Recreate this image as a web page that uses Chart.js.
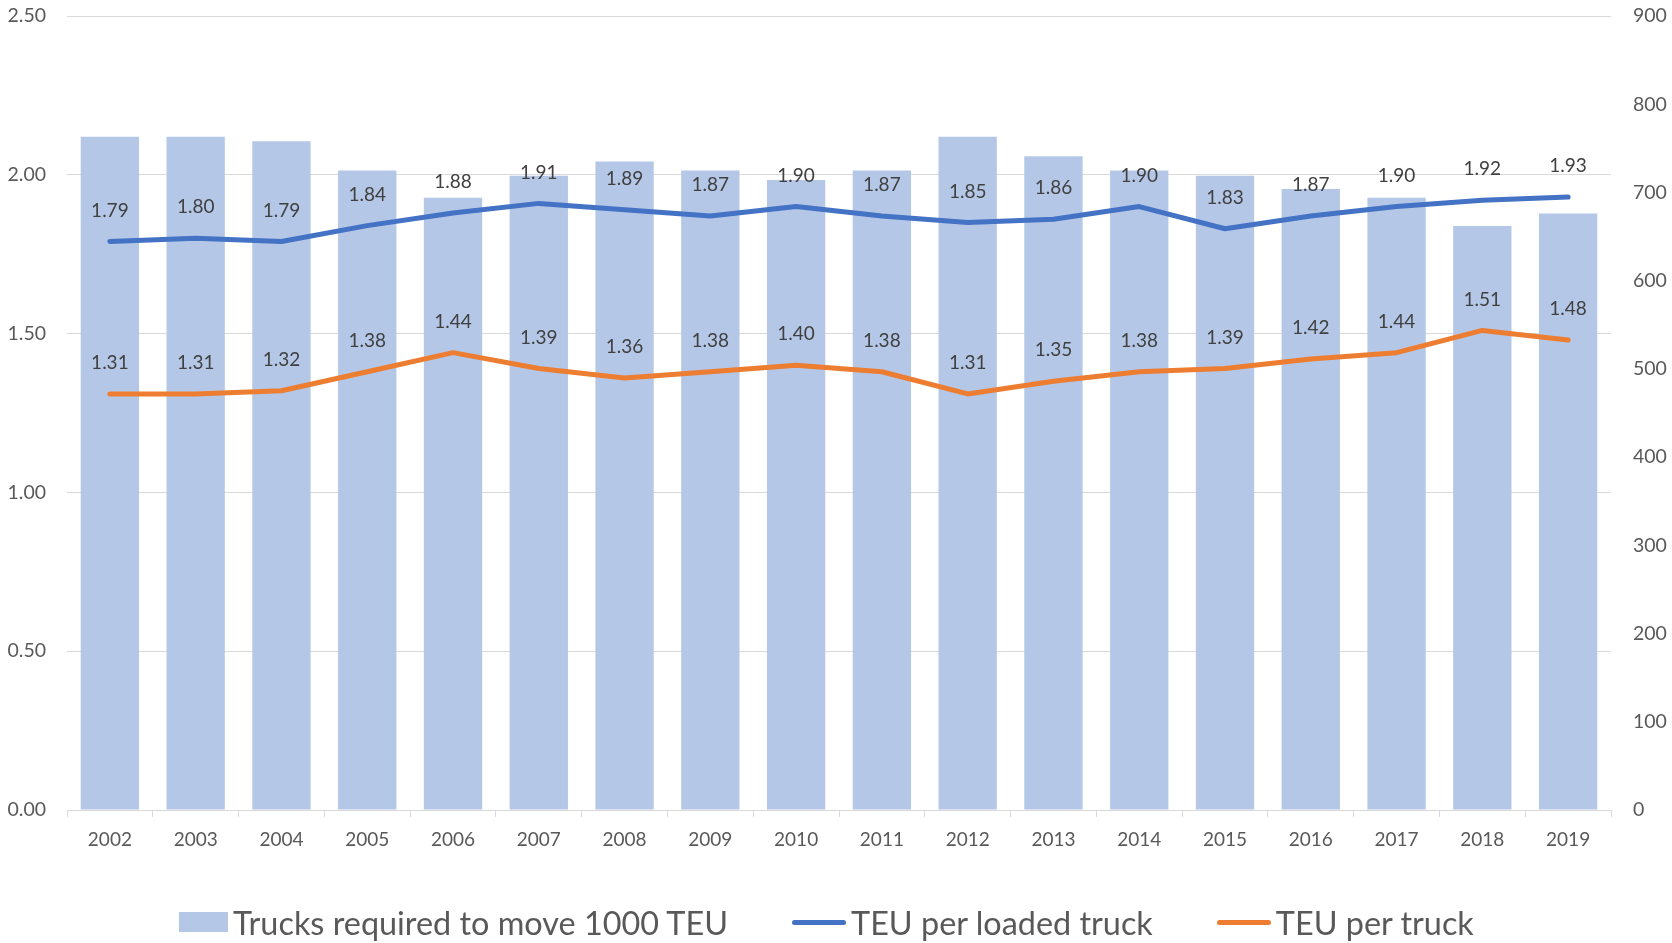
<!DOCTYPE html>
<html>
<head>
<meta charset="utf-8">
<script src="https://cdn.jsdelivr.net/npm/chart.js@4.4.0/dist/chart.umd.min.js"></script>
<style>
  html, body { margin: 0; padding: 0; background: #fff; }
  #wrap { position: relative; width: 1672px; height: 943px; }
  #legend {
    position: absolute; left: 179px; top: 900px; height: 44px;
    display: flex; align-items: center; gap: 64px;
    font-family: Lato, sans-serif; font-size: 32.4px; color: #595959;
  }
  .item { display: flex; align-items: center; gap: 5px; white-space: nowrap; }
  .box { width: 49px; height: 20px; }
  .line { width: 54px; height: 5px; border-radius: 3px; }
</style>
</head>
<body>
<div id="wrap">
  <canvas id="chart" width="1672" height="943"></canvas>
  <div id="legend"></div>
</div>
<script>
// data
const years = ['2002', '2003', '2004', '2005', '2006', '2007', '2008', '2009', '2010',
  '2011', '2012', '2013', '2014', '2015', '2016', '2017', '2018', '2019'];
const trucksPer1000Teu = [763, 763, 758, 725, 694, 719, 735, 725, 714,
  725, 763, 741, 725, 719, 704, 694, 662, 676];
const teuPerLoadedTruck = [1.79, 1.80, 1.79, 1.84, 1.88, 1.91, 1.89, 1.87, 1.90,
  1.87, 1.85, 1.86, 1.90, 1.83, 1.87, 1.90, 1.92, 1.93];
const teuPerTruck = [1.31, 1.31, 1.32, 1.38, 1.44, 1.39, 1.36, 1.38, 1.40,
  1.38, 1.31, 1.35, 1.38, 1.39, 1.42, 1.44, 1.51, 1.48];
const seriesNames = ['Trucks required to move 1000 TEU', 'TEU per loaded truck', 'TEU per truck'];
const seriesColors = ['#b4c7e7', '#4472c4', '#ed7d31'];

const FONT = 'Lato, sans-serif';

// value labels above the line points
const lineLabels = {
  id: 'lineLabels',
  afterDatasetsDraw(chart) {
    const ctx = chart.ctx;
    ctx.save();
    ctx.font = '19px ' + FONT;
    ctx.fillStyle = '#404040';
    ctx.textAlign = 'center';
    ctx.textBaseline = 'middle';
    chart.data.datasets.forEach((ds, i) => {
      if (ds.type !== 'line') return;
      chart.getDatasetMeta(i).data.forEach((pt, j) => {
        ctx.fillText(ds.data[j].toFixed(2), pt.x, pt.y - 31);
      });
    });
    ctx.restore();
  }
};

// fixed axis sizes so the plot area sits where the reference has it
function fitSide(width) {
  return scale => {
    scale.width = width;
    scale.paddingTop = 0;
    scale.paddingBottom = 0;
  };
}

const ctx = document.getElementById('chart').getContext('2d');
new Chart(ctx, {
  data: {
    labels: years,
    datasets: [
      {
        type: 'line', label: seriesNames[1], data: teuPerLoadedTruck, yAxisID: 'y',
        borderColor: seriesColors[1], borderWidth: 5, pointRadius: 0, tension: 0,
        borderCapStyle: 'round', borderJoinStyle: 'round', order: 0
      },
      {
        type: 'line', label: seriesNames[2], data: teuPerTruck, yAxisID: 'y',
        borderColor: seriesColors[2], borderWidth: 5, pointRadius: 0, tension: 0,
        borderCapStyle: 'round', borderJoinStyle: 'round', order: 0
      },
      {
        type: 'bar', label: seriesNames[0], data: trucksPer1000Teu, yAxisID: 'y1',
        backgroundColor: seriesColors[0], barPercentage: 0.68, categoryPercentage: 1, order: 1
      }
    ]
  },
  options: {
    responsive: false,
    animation: false,
    layout: { padding: { top: 16, right: 0, left: 0, bottom: 0 } },
    plugins: { legend: { display: false }, tooltip: { enabled: false } },
    scales: {
      x: {
        grid: { drawOnChartArea: false, drawTicks: true, tickLength: 7, color: '#d9d9d9', offset: true },
        border: { color: '#d9d9d9' },
        ticks: { font: { family: FONT, size: 19 }, color: '#595959', padding: 11, maxRotation: 0 },
        afterFit(scale) { scale.height = 133; }
      },
      y: {
        position: 'left', min: 0, max: 2.5,
        grid: { color: '#d9d9d9', drawTicks: false },
        border: { display: false },
        ticks: {
          stepSize: 0.5, padding: 21, color: '#595959', font: { family: FONT, size: 19.5 },
          callback: v => v.toFixed(2)
        },
        afterFit: fitSide(67)
      },
      y1: {
        position: 'right', min: 0, max: 900,
        grid: { drawOnChartArea: false, drawTicks: false },
        border: { display: false },
        ticks: { stepSize: 100, padding: 22, color: '#595959', font: { family: FONT, size: 19.5 } },
        afterFit: fitSide(61)
      }
    }
  },
  plugins: [lineLabels]
});

// legend under the chart
const legend = document.getElementById('legend');
seriesNames.forEach((name, i) => {
  const item = document.createElement('div');
  item.className = 'item';
  const mark = document.createElement('span');
  mark.className = i === 0 ? 'box' : 'line';
  mark.style.background = seriesColors[i];
  const txt = document.createElement('span');
  txt.textContent = name;
  item.appendChild(mark);
  item.appendChild(txt);
  legend.appendChild(item);
});
</script>
</body>
</html>
